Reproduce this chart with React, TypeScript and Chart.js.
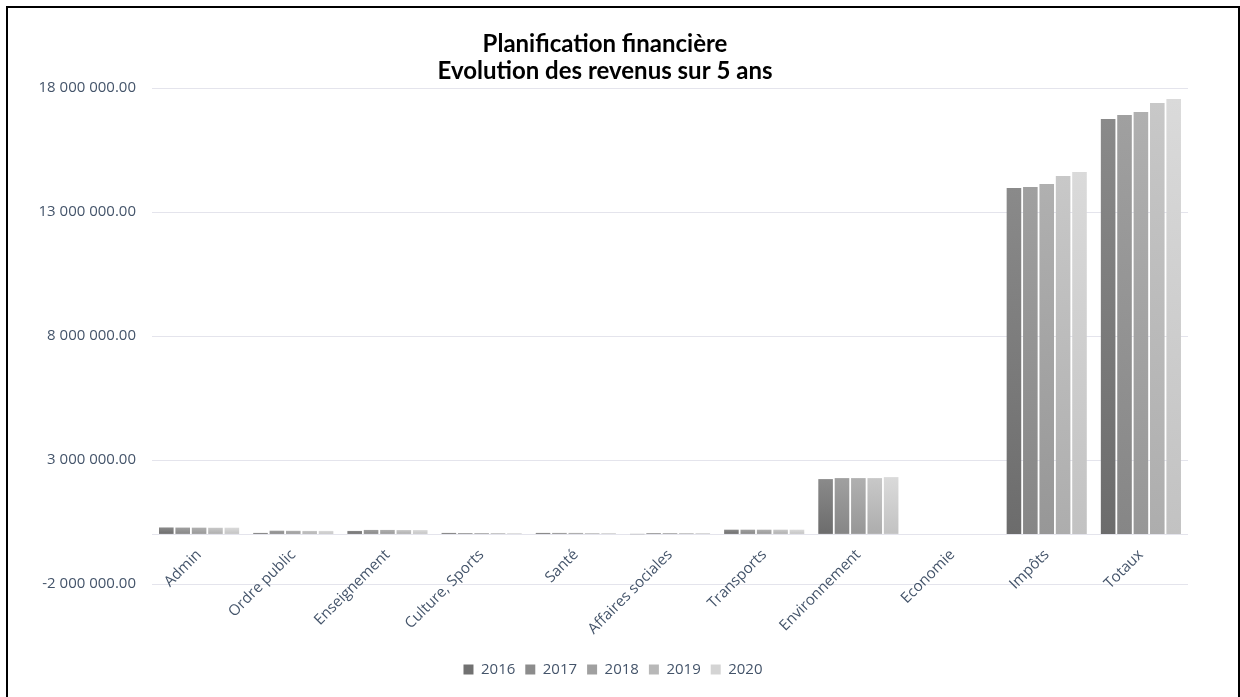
import React, { useEffect, useRef } from 'react';
import { Chart, registerables } from 'chart.js';

Chart.register(...registerables);

const categories = [
  'Admin',
  'Ordre public',
  'Enseignement',
  'Culture, Sports',
  'Santé',
  'Affaires sociales',
  'Transports',
  'Environnement',
  'Economie',
  'Impôts',
  'Totaux',
];

const years = ['2016', '2017', '2018', '2019', '2020'];

const values2016 = [280000, 60000, 140000, 60000, 60000, 10000, 190000, 2230000, 0, 13970000, 16750000];
const values2017 = [275000, 150000, 180000, 55000, 60000, 55000, 190000, 2270000, 0, 14010000, 16910000];
const values2018 = [272000, 145000, 180000, 55000, 60000, 55000, 190000, 2270000, 0, 14130000, 17030000];
const values2019 = [268000, 140000, 175000, 55000, 55000, 55000, 190000, 2270000, 0, 14450000, 17400000];
const values2020 = [270000, 140000, 175000, 50000, 55000, 55000, 190000, 2310000, 0, 14610000, 17560000];

const yTickValues = [-2000000, 0, 3000000, 8000000, 13000000, 18000000];

const topColors = ['#8a8a8a', '#a0a0a0', '#b0b0b0', '#c8c8c8', '#dadada'];
const bottomColors = ['#6c6c6c', '#868686', '#979797', '#adadad', '#c2c2c2'];
const legendColors = ['#717171', '#8c8c8c', '#a0a0a0', '#b8b8b8', '#d4d4d4'];

const titleLines = ['Planification financière', 'Evolution des revenus sur 5 ans'];

function fmt(v: number): string {
  const s = Math.abs(v).toFixed(2);
  const [i, d] = s.split('.');
  const g = i.replace(/\B(?=(\d{3})+(?!\d))/g, ' ');
  return (v < 0 ? '-' : '') + g + '.' + d;
}

function grad(ctx: any, i: number) {
  const chart = ctx.chart;
  if (ctx.type !== 'data' || !chart.chartArea || !chart.scales || !chart.scales.y) return legendColors[i];
  const y = chart.scales.y;
  const v = ctx.parsed && ctx.parsed.y != null ? ctx.parsed.y : ctx.raw;
  const top = y.getPixelForValue(v);
  const base = y.getPixelForValue(0);
  if (!isFinite(top) || !isFinite(base) || Math.abs(base - top) < 1) return bottomColors[i];
  const g = chart.ctx.createLinearGradient(0, top, 0, base);
  g.addColorStop(0, topColors[i]);
  g.addColorStop(1, bottomColors[i]);
  return g;
}

const tickFont = { family: "'Open Sans', sans-serif", size: 15 };
const textColor = '#44546a';

const legendShift = {
  id: 'legendShift',
  afterLayout(chart: any) {
    const l = chart.legend;
    if (l) {
      l.left += 8;
      l.right += 8;
    }
  },
};

export default function App() {
  const ref = useRef<HTMLCanvasElement>(null);

  useEffect(() => {
    const series = [values2016, values2017, values2018, values2019, values2020];
    const chart = new Chart(ref.current as HTMLCanvasElement, {
      type: 'bar',
      data: {
        labels: categories,
        datasets: series.map((d, i) => ({
          label: years[i],
          data: d,
          backgroundColor: (c: any) => grad(c, i),
          borderWidth: 0,
          categoryPercentage: 0.87,
          barPercentage: 0.89,
          yAxisID: 'y',
        })),
      },
      plugins: [legendShift],
      options: {
        responsive: false,
        animation: false,
        layout: { padding: { left: 0, right: 36, top: 0, bottom: 10 } },
        plugins: {
          title: {
            display: true,
            text: titleLines,
            color: '#000000',
            font: { family: "Lato, 'Open Sans', sans-serif", size: 24, weight: 'bold', lineHeight: 1.15 },
            padding: { top: 22, bottom: 2.8 },
          },
          legend: {
            position: 'bottom',
            labels: {
              boxWidth: 10,
              boxHeight: 10,
              padding: 10,
              color: textColor,
              font: tickFont,
              generateLabels: (ch: any) =>
                Chart.defaults.plugins.legend.labels.generateLabels(ch).map((l: any, i: number) => ({
                  ...l,
                  fillStyle: legendColors[i],
                  strokeStyle: legendColors[i],
                  lineWidth: 0,
                })),
            },
          },
          tooltip: { enabled: false },
        },
        scales: {
          x: {
            grid: { display: false, drawTicks: false },
            border: { display: false },
            ticks: {
              autoSkip: false,
              maxRotation: 45,
              minRotation: 45,
              padding: -38,
              color: textColor,
              font: tickFont,
            },
            afterFit: (s: any) => {
              s.height = 68;
              s._computeLabelArea = () => undefined;
            },
          },
          y: {
            min: -2000000,
            max: 18000000,
            afterBuildTicks: (s: any) => {
              s.ticks = yTickValues.map((v) => ({ value: v }));
            },
            ticks: {
              callback: (v: any) => (Number(v) === 0 ? '' : fmt(Number(v))),
              padding: 16,
              color: textColor,
              font: tickFont,
            },
            grid: { color: '#e4e4ec', drawTicks: false },
            border: { display: false },
            afterFit: (s: any) => {
              s.width = 144;
            },
          },
          yR: {
            type: 'linear',
            position: 'right',
            grid: { display: false, drawTicks: false },
            ticks: { display: false },
            border: { display: false },
            afterFit: (s: any) => {
              s.width = 14;
            },
          },
        },
      } as any,
    });
    return () => chart.destroy();
  }, []);

  return (
    <div
      style={{
        position: 'absolute',
        left: 6,
        top: 6,
        width: 1234,
        height: 700,
        border: '2px solid #000',
        boxSizing: 'border-box',
        background: '#fff',
      }}
    >
      <canvas ref={ref} width={1230} height={689} style={{ display: 'block' }} />
    </div>
  );
}
